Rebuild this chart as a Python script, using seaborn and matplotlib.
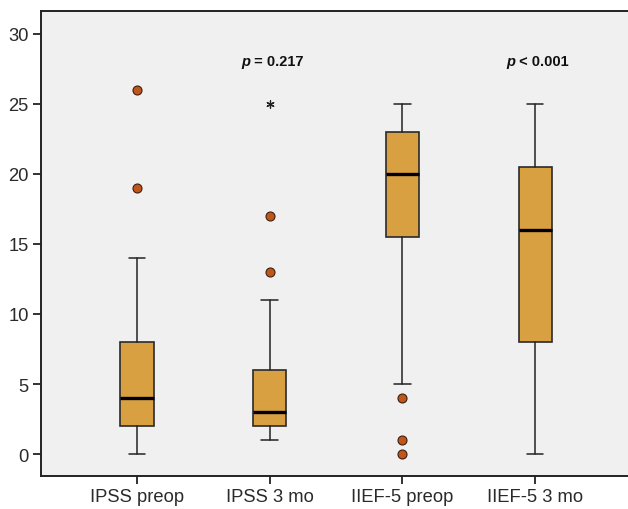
import matplotlib
matplotlib.use('Agg')
import matplotlib.pyplot as plt
import seaborn as sns
import pandas as pd

# box statistics
groups = ['IPSS preop', 'IPSS 3 mo', 'IIEF-5 preop', 'IIEF-5 3 mo']
whis_lo = [0, 1, 5, 0]
q1 = [2, 2, 15.5, 8]
med = [4, 3, 20, 16]
q3 = [8, 6, 23, 20.5]
whis_hi = [14, 11, 25, 25]
outliers = [[19, 26], [13, 17], [4, 1, 0], []]
extremes = [[], [25], [], []]
p_labels = ['', 'p = 0.217', '', 'p < 0.001']

sns.set_theme(style='white')
plt.rcParams['font.family'] = ['Liberation Sans', 'DejaVu Sans']

fig = plt.figure(figsize=(6.28, 5.10), dpi=100)
ax = fig.add_axes([41/628, 33/510, 1 - 41/628, (477 - 12)/510])
ax.set_facecolor('#F0F0F0')

stats = []
for i, g in enumerate(groups):
    stats.append(dict(label=g, whislo=whis_lo[i], q1=q1[i], med=med[i],
                      q3=q3[i], whishi=whis_hi[i], fliers=[]))

ax.bxp(stats, positions=range(len(groups)), widths=0.25, patch_artist=True,
       showfliers=False,
       boxprops=dict(facecolor='#D9A042', edgecolor='#2a2a2a', linewidth=1.2),
       medianprops=dict(color='black', linewidth=2.4),
       whiskerprops=dict(color='#222222', linewidth=1.1),
       capprops=dict(color='#222222', linewidth=1.1))

out = pd.DataFrame([(i, v) for i, vals in enumerate(outliers) for v in vals],
                   columns=['pos', 'val'])
sns.scatterplot(data=out, x='pos', y='val', ax=ax, s=42, color='#C0561A',
                edgecolor='#3a2010', linewidth=0.8, zorder=5)
ext = pd.DataFrame([(i, v) for i, vals in enumerate(extremes) for v in vals],
                   columns=['pos', 'val'])
ax.scatter(ext['pos'], ext['val'], marker=(6, 2, 0), s=28, color='#222222',
           linewidths=0.9, zorder=5)

for i, lab in enumerate(p_labels):
    if lab:
        sym, rest = lab.split(' ', 1)
        t = ax.text(i - 0.15, 28.1, sym, style='italic', fontweight='bold',
                    fontsize=10.5, ha='right', va='center', color='#111111')
        ax.annotate(' ' + rest, xy=(1, 0.5), xycoords=t, fontweight='bold',
                    fontsize=10.5, ha='left', va='center', color='#111111')

ax.set_xlim(-0.723, 3.70)
ax.set_ylim(-1.57, 31.64)
ax.set_yticks([0, 5, 10, 15, 20, 25, 30])
ax.set_xticks(range(len(groups)))
ax.set_xticklabels(groups)
ax.set_xlabel('')
ax.set_ylabel('')
ax.tick_params(axis='both', which='major', length=6, width=1.3, color='#222222',
               labelsize=13.2, labelcolor='#2a2a2a', direction='out',
               left=True, bottom=True, pad=3)
ax.spines['right'].set_visible(False)
for s in ['left', 'bottom', 'top']:
    ax.spines[s].set_color('#222222')
    ax.spines[s].set_linewidth(1.4)

fig.savefig('out.png', dpi=100)
